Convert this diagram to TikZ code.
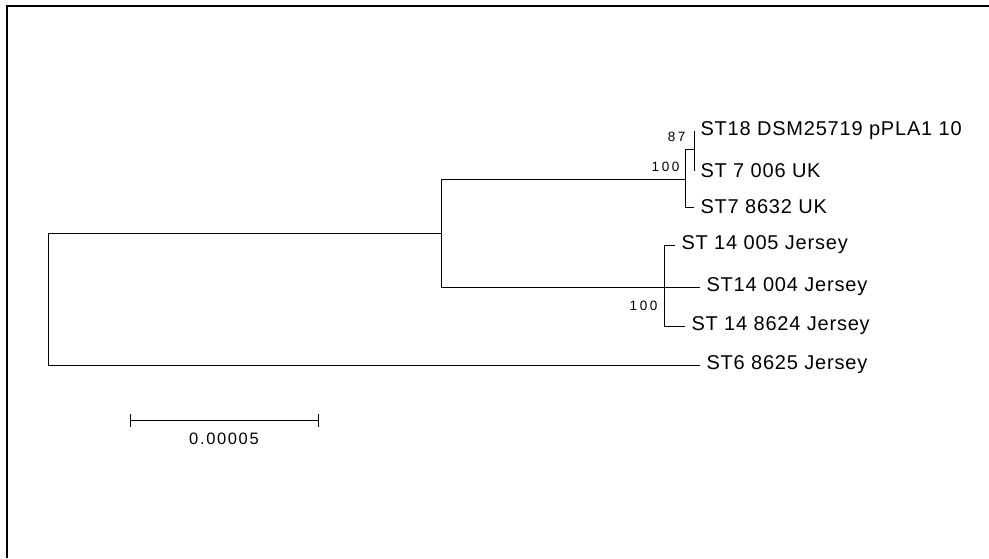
\documentclass[tikz,border=0pt]{standalone}
\usepackage{fontspec}
\setmainfont{Liberation Sans}
\newfontfamily\tipfont[LetterSpace=4]{Liberation Sans}
\newfontfamily\bootfont[LetterSpace=20]{Liberation Sans}
\newfontfamily\barfont[LetterSpace=10]{Liberation Sans}
\usepackage{tikz}
\usetikzlibrary{positioning}

\begin{document}
\begin{tikzpicture}[x=1pt, y=-1pt, line width=1pt,
	leaf/.style={anchor=west, inner xsep=6pt, inner ysep=0pt, font=\tipfont\fontsize{20}{24}\selectfont},
	boot/.style={anchor=east, inner sep=0pt, font=\bootfont\fontsize{13.5}{16}\selectfont},
	scalelabel/.style={inner sep=0pt, font=\barfont\fontsize{16.5}{19}\selectfont}]
	\useasboundingbox (0,0) rectangle (989,558);
	\draw [line width=1.3pt] (989,6) -- (7,6) -- (7,558);
	% inner nodes of the tree
	\coordinate (Root) at (48,298);
	\coordinate (Upper) at (441,233);
	\coordinate (UK) at (685,179);
	\coordinate (UKInner) at (694,149);
	\coordinate (Jersey) at (664,287);
	% tips
	\node [leaf] (ST18) at (694,131) {ST18 DSM25719 pPLA1 10};
	\node [leaf] (ST7a) at (694,171) {ST 7 006 UK};
	\node [leaf] (ST7b) at (694,207) {ST7 8632 UK};
	\node [leaf] (ST14a) at (675,245) {ST 14 005 Jersey};
	\node [leaf] (ST14b) at (700,287) {ST14 004 Jersey};
	\node [leaf] (ST14c) at (685,326) {ST 14 8624 Jersey};
	\node [leaf] (ST6) at (700,365) {ST6 8625 Jersey};
	% branches
	\draw (Root) |- (Upper);
	\draw (Root) |- (ST6.west);
	\draw (Upper) |- (UK);
	\draw (Upper) |- (Jersey);
	\draw (UK) |- (UKInner);
	\draw (UK) |- (ST7b.west);
	\draw (UKInner) |- (ST18.west);
	\draw (UKInner) |- (ST7a.west);
	\draw (Jersey) |- (ST14a.west);
	\draw (Jersey) -- (ST14b.west);
	\draw (Jersey) |- (ST14c.west);
	% bootstrap values
	\node [boot] (B87) at (686,137) {87};
	\node [boot] (B100a) at (680,167) {100};
	\node [boot] (B100b) at (658,305.5) {100};
	% scale bar
	\coordinate (BarL) at (130,420);
	\coordinate (BarR) at (318,420);
	\coordinate (BarMid) at (224,420);
	\draw (BarL) -- (BarR);
	\draw ([yshift=-7pt]BarL) -- ([yshift=6pt]BarL);
	\draw ([yshift=-7pt]BarR) -- ([yshift=6pt]BarR);
	\node [scalelabel, below = 12pt of BarMid] (BarText) {0.00005};
\end{tikzpicture}
\end{document}
